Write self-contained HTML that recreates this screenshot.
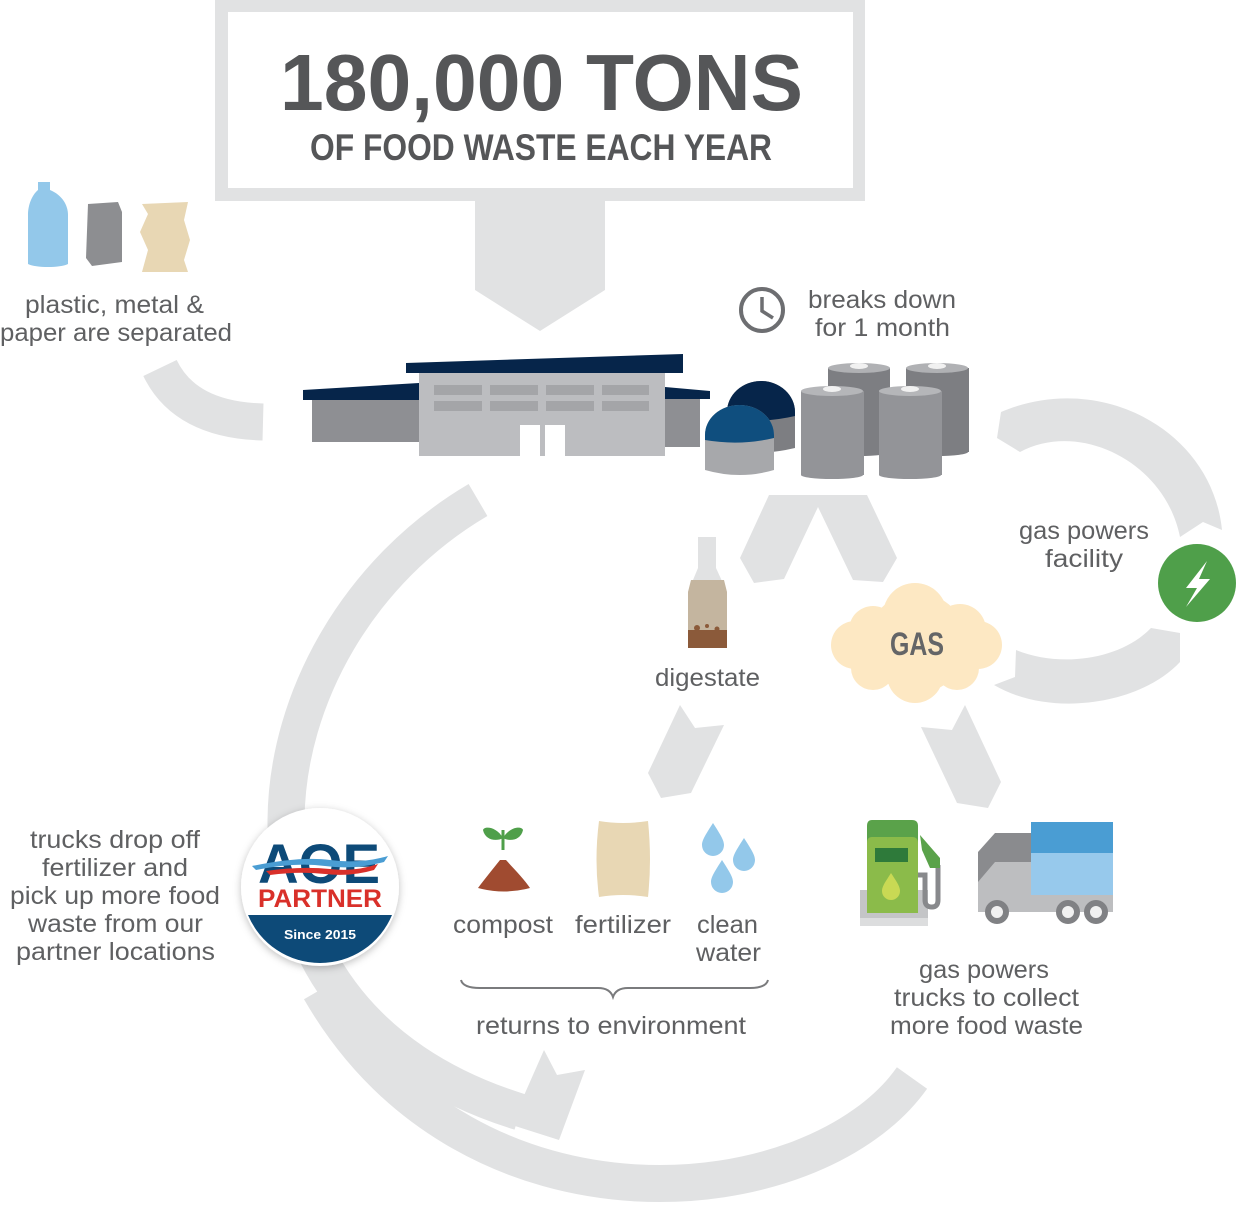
<!DOCTYPE html>
<html><head><meta charset="utf-8"><style>
html,body{margin:0;padding:0;background:#fff;}
svg{display:block;}
text{font-family:"Liberation Sans",sans-serif;fill:#5f6062;}
</style></head><body>
<svg width="1237" height="1210" viewBox="0 0 1237 1210" xmlns="http://www.w3.org/2000/svg">
<defs>
<filter id="sh" x="-20%" y="-20%" width="140%" height="140%"><feDropShadow dx="0" dy="2" stdDeviation="4" flood-color="#000" flood-opacity="0.25"/></filter>
</defs>
<g fill="#e1e2e3" stroke="none">
<rect x="215" y="0" width="650" height="201"/>
<polygon points="475,200 605,200 605,290 540,331 475,290"/>
<polygon points="769,495 867,495 897,558 883,582 853,580 818,507 784,579 754,583 740,558"/>
<polygon points="680,705 695,728 724,725 691,793 661,798 648,773"/>
<polygon points="965,705 952,730 921,727 957,803 988,808 1001,782"/>
<path d="M1001,412 C1100,370 1212,430 1222,530 L1203,522 L1180,537 C1165,462 1080,420 1020,452 L997,438 Z"/>
<path d="M1151,628 L1180,633 L1180,662 C1140,705 1050,718 994,685 L1015,677 L1016,650 C1060,668 1120,660 1151,628 Z"/>
</g>
<g fill="none" stroke="#e1e2e3" stroke-width="37">
<path d="M160,368 Q185,420 263,422"/>
<path d="M912,1078 C815,1215 470,1250 320,990"/>
<path d="M478,500 C240,640 190,1010 520,1112"/>
</g>
<polygon fill="#e1e2e3" points="544,1050 557,1075 585,1070 559,1140 515,1126 522,1100"/>
<rect x="228" y="12" width="625" height="176" fill="#fff"/>
<text x="280" y="110" font-size="80" font-weight="bold" textLength="523" lengthAdjust="spacingAndGlyphs" style="fill:#555658">180,000 TONS</text>
<text x="310" y="160" font-size="37" font-weight="bold" textLength="462" lengthAdjust="spacingAndGlyphs" style="fill:#555658">OF FOOD WASTE EACH YEAR</text>

<path d="M38,190 L38,182 L50,182 L50,190 C62,195 68,205 68,215 L68,264 C60,268 36,268 28,264 L28,215 C28,205 32,195 38,190 Z" fill="#93c8ea"/>
<path d="M88,204 L118,202 L122,212 L122,262 L92,266 L86,258 Z" fill="#8d8e91"/>
<path d="M142,204 L188,202 L184,220 L190,240 L184,260 L188,272 L142,272 L148,250 L140,232 L148,214 Z" fill="#e8d7b4"/>
<g font-size="25">
<text x="25" y="313" textLength="179" lengthAdjust="spacingAndGlyphs">plastic, metal &amp;</text>
<text x="0" y="341" textLength="232" lengthAdjust="spacingAndGlyphs">paper are separated</text>
</g>

<polygon points="303,390 419,383 419,400 303,400" fill="#06254a"/>
<rect x="312" y="400" width="107" height="42" fill="#8e8f93"/>
<polygon points="665,387 710,391 710,399 665,399" fill="#06254a"/>
<rect x="665" y="399" width="35" height="48" fill="#8e8f93"/>
<rect x="419" y="373" width="246" height="83" fill="#bcbdc0"/>
<polygon points="406,363 683,354 683,373 406,373" fill="#06254a"/>
<g fill="#a4a5a8">
<rect x="434" y="385" width="48" height="10"/><rect x="490" y="385" width="48" height="10"/><rect x="546" y="385" width="48" height="10"/><rect x="602" y="385" width="47" height="10"/>
<rect x="434" y="401" width="48" height="10"/><rect x="490" y="401" width="48" height="10"/><rect x="546" y="401" width="48" height="10"/><rect x="602" y="401" width="47" height="10"/>
</g>
<rect x="520" y="425" width="20" height="31" fill="#fff"/><rect x="545" y="425" width="20" height="31" fill="#fff"/>

<path d="M727,452 L727,412 A34,31 0 0 1 795,412 L795,448 Q761,456 727,452 Z" fill="#7d7e82"/>
<path d="M727,418 L727,412 A34,31 0 0 1 795,412 L795,416 Q761,424 727,418 Z" fill="#06254a"/>
<path d="M705,470 L705,435 A34.5,30 0 0 1 774,435 L774,470 Q740,480 705,470 Z" fill="#a7a8ab"/>
<path d="M705,440 L705,435 A34.5,30 0 0 1 774,435 L774,438 Q740,446 705,440 Z" fill="#0f4e7e"/>
<g>
<rect x="828" y="368" width="62" height="84" fill="#7d7e82"/><ellipse cx="859" cy="452" rx="31" ry="4" fill="#7d7e82"/><ellipse cx="859" cy="368" rx="31" ry="5" fill="#b0b1b4"/><ellipse cx="859" cy="366" rx="9" ry="3" fill="#f1f1f1"/>
<rect x="906" y="368" width="63" height="84" fill="#7d7e82"/><ellipse cx="937" cy="452" rx="31" ry="4" fill="#7d7e82"/><ellipse cx="937" cy="368" rx="31" ry="5" fill="#b0b1b4"/><ellipse cx="937" cy="366" rx="9" ry="3" fill="#f1f1f1"/>
<rect x="801" y="391" width="63" height="84" fill="#939498"/><ellipse cx="832" cy="475" rx="31" ry="4" fill="#939498"/><ellipse cx="832" cy="391" rx="31" ry="5" fill="#b5b6b9"/><ellipse cx="832" cy="389" rx="9" ry="3" fill="#f1f1f1"/>
<rect x="879" y="391" width="63" height="84" fill="#939498"/><ellipse cx="910" cy="475" rx="31" ry="4" fill="#939498"/><ellipse cx="910" cy="391" rx="31" ry="5" fill="#b5b6b9"/><ellipse cx="910" cy="389" rx="9" ry="3" fill="#f1f1f1"/>
</g>
<circle cx="762" cy="310" r="21" fill="none" stroke="#6d6e71" stroke-width="4"/>
<path d="M762,297 L762,311 L773,318" fill="none" stroke="#6d6e71" stroke-width="3.5"/>
<g font-size="25">
<text x="808" y="308" textLength="148" lengthAdjust="spacingAndGlyphs">breaks down</text>
<text x="815" y="336" textLength="135" lengthAdjust="spacingAndGlyphs">for 1 month</text>
<text x="1019" y="539" textLength="130" lengthAdjust="spacingAndGlyphs">gas powers</text>
<text x="1045" y="567" textLength="78" lengthAdjust="spacingAndGlyphs">facility</text>
<text x="655" y="686" textLength="105" lengthAdjust="spacingAndGlyphs">digestate</text>
</g>
<circle cx="1197" cy="583" r="39" fill="#4f9f4a"/>
<polygon points="1207,561 1186,588 1197,588 1186,607 1210,579 1199,579" fill="#fff"/>
<path d="M698,537 L716,537 L716,568 L727,592 L727,648 L688,648 L688,592 L698,568 Z" fill="#e1e2e3"/>
<path d="M691,580 L724,580 L727,592 L727,648 L688,648 L688,592 Z" fill="#c4b59f"/>
<rect x="688" y="630" width="39" height="18" fill="#8b5a3a"/>
<circle cx="697" cy="628" r="3" fill="#8b5a3a"/><circle cx="707" cy="626" r="2" fill="#8b5a3a"/><circle cx="717" cy="629" r="2.5" fill="#8b5a3a"/>
<g fill="#fde8c3">
<circle cx="917" cy="643" r="50"/><circle cx="915" cy="615" r="32"/><circle cx="873" cy="630" r="24"/><circle cx="960" cy="630" r="26"/>
<circle cx="855" cy="645" r="24"/><circle cx="978" cy="645" r="24"/><circle cx="873" cy="668" r="22"/><circle cx="957" cy="668" r="22"/><circle cx="915" cy="675" r="28"/>
</g>
<text x="890" y="655" font-size="32" font-weight="bold" textLength="54" lengthAdjust="spacingAndGlyphs" style="fill:#646567">GAS</text>

<path d="M503,850 L503,830" stroke="#4f9f4a" stroke-width="3" fill="none"/>
<path d="M503,838 C496,826 484,826 483,830 C485,840 496,842 503,838 Z" fill="#4f9f4a"/>
<path d="M503,838 C510,826 522,826 523,830 C521,840 510,842 503,838 Z" fill="#4f9f4a"/>
<path d="M500,860 L506,860 C515,870 525,880 530,888 Q504,895 478,888 C484,880 492,870 500,860 Z" fill="#a04b30"/>
<path d="M599,821 Q623,825 648,821 Q652,860 648,897 Q623,893 599,897 Q594,860 599,821 Z" fill="#e8d7b4"/>
<g fill="#93c8ea">
<path d="M713,823 C706,834 702,840 702,845 A11,11 0 0 0 724,845 C724,840 720,834 713,823 Z"/>
<path d="M744,838 C737,849 733,855 733,860 A11,11 0 0 0 755,860 C755,855 751,849 744,838 Z"/>
<path d="M722,860 C715,871 711,877 711,882 A11,11 0 0 0 733,882 C733,877 729,871 722,860 Z"/>
</g>
<g font-size="25">
<text x="453" y="933" textLength="100" lengthAdjust="spacingAndGlyphs">compost</text>
<text x="575" y="933" textLength="96" lengthAdjust="spacingAndGlyphs">fertilizer</text>
<text x="697" y="933" textLength="61" lengthAdjust="spacingAndGlyphs">clean</text>
<text x="696" y="961" textLength="65" lengthAdjust="spacingAndGlyphs">water</text>
<text x="476" y="1034" textLength="270" lengthAdjust="spacingAndGlyphs">returns to environment</text>
<text x="919" y="978" textLength="130" lengthAdjust="spacingAndGlyphs">gas powers</text>
<text x="894" y="1006" textLength="185" lengthAdjust="spacingAndGlyphs">trucks to collect</text>
<text x="890" y="1034" textLength="193" lengthAdjust="spacingAndGlyphs">more food waste</text>
<text x="30" y="848" textLength="170" lengthAdjust="spacingAndGlyphs">trucks drop off</text>
<text x="42" y="876" textLength="146" lengthAdjust="spacingAndGlyphs">fertilizer and</text>
<text x="10" y="904" textLength="210" lengthAdjust="spacingAndGlyphs">pick up more food</text>
<text x="28" y="932" textLength="175" lengthAdjust="spacingAndGlyphs">waste from our</text>
<text x="16" y="960" textLength="199" lengthAdjust="spacingAndGlyphs">partner locations</text>
</g>
<path d="M461,980 Q463,988 480,988 L598,988 Q610,988 613,997 Q616,988 628,988 L750,988 Q766,988 768,980" fill="none" stroke="#7a7b7d" stroke-width="2"/>

<rect x="860" y="890" width="68" height="28" fill="#c4c5c7"/>
<rect x="860" y="918" width="68" height="8" fill="#dcddde"/>
<path d="M918,875 L925,875 L925,900 Q925,907 932,907 Q938,907 938,900 L938,865" fill="none" stroke="#88898c" stroke-width="5"/>
<path d="M920,835 L940,858 L940,868 L930,868 L922,850 Z" fill="#5aa24a"/>
<path d="M872,820 L912,820 Q918,820 918,826 L918,913 L867,913 L867,826 Q867,820 872,820 Z" fill="#5aa24a"/>
<path d="M872,837 L912,837 Q918,837 918,843 L918,913 L867,913 L867,843 Q867,837 872,837 Z" fill="#8bbb4a"/>
<rect x="875" y="848" width="33" height="14" fill="#2e7a3a"/>
<path d="M891,873 C886,881 882,886 882,891 A9,9 0 0 0 900,891 C900,886 896,881 891,873 Z" fill="#c9d954"/>
<path d="M978,852 L995,833 L1032,833 L1032,882 L978,882 Z" fill="#8a8b8e"/>
<path d="M978,882 L995,862 L1032,862 L1032,870 L1113,870 L1113,912 L978,912 Z" fill="#bdbec0"/>
<rect x="1031" y="822" width="82" height="31" fill="#4a9dd3"/>
<rect x="1031" y="853" width="82" height="42" fill="#97c9ec"/>
<g fill="#f1f1f1" stroke="#808184" stroke-width="6">
<circle cx="997" cy="912" r="9"/><circle cx="1068" cy="912" r="9"/><circle cx="1096" cy="912" r="9"/>
</g>

<g filter="url(#sh)"><circle cx="320" cy="887" r="79" fill="#fff"/></g>
<path d="M248,915 L392,915 A78,78 0 0 1 248,915 Z" fill="#0d4a78"/>
<text x="258" y="883" font-size="56" font-weight="bold" textLength="122" lengthAdjust="spacingAndGlyphs" style="fill:#0d4a78">AOE</text>
<path d="M252,866 Q300,856 330,860 Q360,864 388,856 L384,862 Q355,870 325,866 Q295,862 256,870 Z" fill="#4a9dd3"/>
<path d="M266,871 Q300,866 330,869 Q355,872 378,864 L374,870 Q350,877 325,874 Q300,871 270,875 Z" fill="#d9302a"/>
<text x="258" y="907" font-size="25" font-weight="bold" textLength="124" lengthAdjust="spacingAndGlyphs" style="fill:#d9302a">PARTNER</text>
<text x="284" y="939" font-size="13" font-weight="bold" textLength="72" lengthAdjust="spacingAndGlyphs" style="fill:#fff">Since 2015</text>
</svg>
</body></html>
